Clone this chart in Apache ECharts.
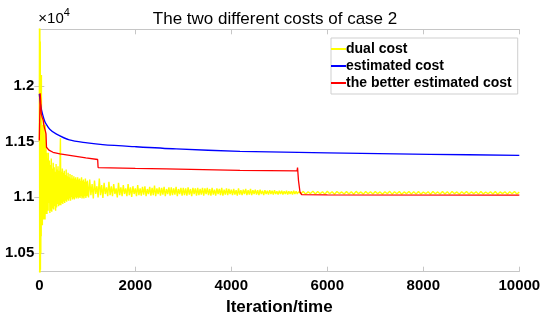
<!DOCTYPE html>
<html>
<head>
<meta charset="utf-8">
<script src="https://cdn.jsdelivr.net/npm/echarts@6/dist/echarts.min.js"></script>
<style>html,body{margin:0;padding:0;background:#fff}#c{width:550px;height:321px}</style>
</head>
<body>
<div id="c"></div>
<script>
// ---- Data ----
const title = 'The two different costs of case 2';
const xName = 'Iteration/time';
const seriesNames = ['dual cost', 'estimated cost', 'the better estimated cost'];
const xTicks = [0, 2000, 4000, 6000, 8000, 10000];
const yTicks = [10500, 11000, 11500, 12000];

// dual cost (yellow), read in segments: [start iteration, step, values]
const dualA = [11500,12600,10300,12600,10300,12400,10350,12100,10500,11900,
  10650,12100,10750,11700,10800,11600,10750,11650,10800,11550,
  10850,11500,10800,11700,10850,11450,10800,11500,10850,11400,
  10800,11650,10850,11400,10900,11450,10850,11350,10900,11400,
  10850,11350,10900,11300,10950,11350,10880,11400,10950,11300];
const dualB = [11080,11330,10860,11290,10880,11350,10870,11260,10900,11310,
  10890,11270,10920,11230,10880,11300,10910,11250,10940,11280,
  10920,11240,10930,11280,11530,10930,11230,10950,11260,10940,
  11220,10960,11240,10950,11200,10970,11250,10960,11190,10980,
  11220,10970,11180,10990,11210,10970,11170,11000,11200,10980,
  11170,10990,11190,10980,11170,11000,11180,10990,11160,11000,
  11180,10990,11160,11000,11170,10995,11150,11010,11180,10990,
  11150,11000,11160,10990,11140,11010,11170,10995,11140,11010,
  11150];
const dualC = [11000,11160,11020,11120,10990,11150,11030,11100,11000,11170,11020,11110,10995,11130,11030,11090,11010,11140,11020,11100,
  11010,11120,11030,11080,11000,11130,11020,11090,11010,11110,11030,11080,11010,11120,11020,11090,11005,11100,11030,11080,
  11010,11110,11020,11080,11015,11095,11025,11100,11010,11075,11030,11095,11015,11085,11020,11105,11010,11080,11030,11090,
  11015,11085,11025,11095,11010,11075,11030,11090,11015,11090,11020,11080,11025,11095,11010,11075,11030,11085,11015,11085,
  11020,11080,11015,11090,11025,11075,11010,11085,11030,11080,11015,11085,11020,11075,11025,11085,11015,11080,11030,11085,
  11020,11075,11015,11085,11025,11070,11015,11080,11030,11075,11020,11085,11015,11070,11025,11080,11020,11075,11030,11070,
  11020,11075,11025,11065,11015,11080,11025,11065,11020,11070,11030,11075,11020,11065,11025,11075,11020,11065,11030,11070,
  11025,11065,11020,11070,11030,11060,11020,11065,11030,11060,11025,11065,11030,11060,11025,11065,11030,11055,11025,11060,
  11030,11060,11025,11055,11030,11060,11025,11055,11030,11055,11025,11060,11030,11055,11030,11050];
const dualD = [11032,11054,11028,11050,11034,11056,11030,11052,11032,11051,11029,11055,11033,11050,11028,11052,11034,11049,11030,11053,
  11031,11051,11028,11054,11033,11049,11029,11052,11032,11050,11030,11053,11033,11049,11028,11051,11032,11054,11029,11050,
  11032,11052,11028,11049,11033,11053,11030,11050,11031,11052,11029,11048,11033,11051,11028,11053,11032,11049,11030,11052,
  11031,11050,11029,11053,11033,11049,11028,11051,11032,11052,11030,11049,11033,11051,11029,11052,11031,11048,11032,11051,
  11030,11052,11028,11049,11033,11051,11029,11050,11032,11052,11030,11047];
const dualSegments = [[0, 4, dualA], [200, 10, dualB], [1025, 25, dualC], [5450, 50, dualD]];

// estimated cost (blue): [iteration, cost]
const estimatedIter = [0, 20, 50, 100, 140, 223, 350, 625, 1000, 1320, 2000, 2850, 4181, 6000, 8140, 10000];
const estimatedCost = [11930, 11850, 11780, 11700, 11660, 11610, 11570, 11516, 11490, 11474, 11455, 11435, 11414, 11399, 11387, 11378];

// the better estimated cost (red): [iteration, cost]
const betterIter = [0, 12, 18, 30, 42, 60, 83, 95, 110, 130, 140, 150, 200, 285, 430, 970, 1216, 1225, 2000, 2640, 4181, 5370, 5380, 5400, 5430, 5466, 6000, 10000];
const betterCost = [11510, 11510, 11935, 11860, 11750, 11720, 11690, 11650, 11620, 11590, 11570, 11450, 11425, 11405, 11390, 11354, 11340, 11268, 11260, 11255, 11243, 11238, 11268, 11150, 11050, 11025, 11022, 11020];

// ---- Build ----
const dualData = [];
dualSegments.forEach(([s, st, vals]) => vals.forEach((v, i) => dualData.push([s + i * st, v])));
const estData = estimatedIter.map((x, i) => [x, estimatedCost[i]]);
const betterData = betterIter.map((x, i) => [x, betterCost[i]]);

const FONT = '"Liberation Sans", Arial, Helvetica, sans-serif';
const AX = '#c6c6c6';
const yMin = 10332, yMax = 12510;

const chart = echarts.init(document.getElementById('c'), null, {renderer: 'canvas'});
chart.setOption({
  animation: false,
  backgroundColor: '#fff',
  title: {
    text: title, left: 'center', top: 6,
    textStyle: {fontFamily: FONT, fontSize: 17, fontWeight: 'normal', color: '#000'}
  },
  grid: {left: 39.3, right: 30.7, top: 29.3, bottom: 49.3, containLabel: false},
  legend: {
    orient: 'vertical', left: 331, top: 38, width: 182,
    padding: [4, 6, 4, 0], itemGap: 3,
    itemWidth: 15, itemHeight: 2, icon: 'rect',
    borderColor: '#cfcfcf', borderWidth: 1, backgroundColor: '#fff',
    data: seriesNames,
    textStyle: {fontFamily: FONT, fontSize: 14, fontWeight: 'bold', color: '#000', padding: [0, 0, 0, -5]}
  },
  xAxis: [{
    type: 'value', min: 0, max: 10000, interval: 2000,
    name: xName, nameLocation: 'middle', nameGap: 26,
    nameTextStyle: {fontFamily: FONT, fontSize: 17, fontWeight: 'bold', color: '#000'},
    axisLine: {show: true, lineStyle: {color: AX}},
    axisTick: {inside: true, length: 5, lineStyle: {color: AX}},
    axisLabel: {fontFamily: FONT, fontSize: 15, fontWeight: 'bold', color: '#000', margin: 7,
      customValues: xTicks, formatter: v => String(v)},
    splitLine: {show: false}
  }, {
    type: 'value', position: 'top', min: 0, max: 10000, interval: 2000,
    axisLine: {show: true, lineStyle: {color: AX}},
    axisTick: {inside: true, length: 5, lineStyle: {color: AX}},
    axisLabel: {show: false}, splitLine: {show: false}
  }],
  yAxis: [{
    type: 'value', min: yMin, max: yMax,
    name: '{a|×10}{b|4}', nameLocation: 'end', nameGap: 3,
    nameTextStyle: {align: 'left', verticalAlign: 'bottom', padding: [0, 0, 0, -1],
      rich: {
        a: {fontFamily: FONT, fontSize: 15, color: '#000', verticalAlign: 'bottom'},
        b: {fontFamily: FONT, fontSize: 11, color: '#000', verticalAlign: 'top', padding: [0, 0, 8, 0]}
      }},
    axisLine: {show: true, lineStyle: {color: AX}},
    axisTick: {inside: true, length: 5, lineStyle: {color: AX}, customValues: yTicks},
    axisLabel: {fontFamily: FONT, fontSize: 15, fontWeight: 'bold', color: '#000', margin: 5,
      customValues: yTicks, formatter: v => String(+(v / 10000).toFixed(2))},
    splitLine: {show: false}
  }, {
    type: 'value', position: 'right', min: yMin, max: yMax,
    axisLine: {show: true, lineStyle: {color: AX}},
    axisTick: {inside: true, length: 5, lineStyle: {color: AX}, customValues: yTicks},
    axisLabel: {show: false}, splitLine: {show: false}
  }],
  series: [{
    name: seriesNames[0], type: 'line', data: dualData, showSymbol: false, symbol: 'none',
    lineStyle: {color: '#ffff00', width: 1.4}, itemStyle: {color: '#ffff00'}, clip: true, sampling: null
  }, {
    name: seriesNames[1], type: 'line', data: estData, showSymbol: false, symbol: 'none', smooth: 0.3,
    lineStyle: {color: '#0000ff', width: 1.3}, itemStyle: {color: '#0000ff'}, clip: true
  }, {
    name: seriesNames[2], type: 'line', data: betterData, showSymbol: false, symbol: 'none',
    lineStyle: {color: '#ff0000', width: 1.3}, itemStyle: {color: '#ff0000'}, clip: true
  }]
});
</script>
</body>
</html>
